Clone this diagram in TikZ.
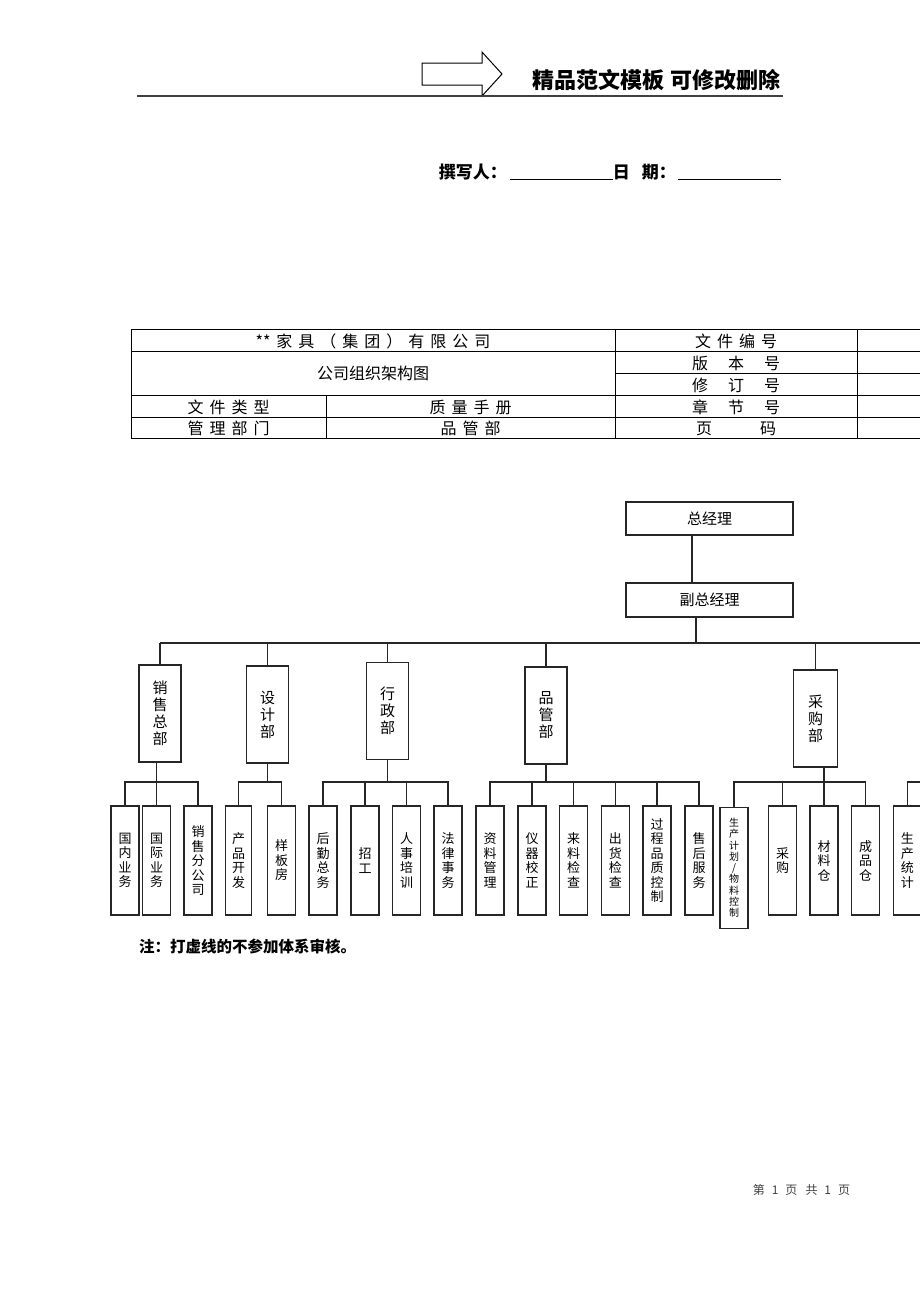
\documentclass[tikz,border=0pt]{standalone}
\usepackage{fontspec}
\setmainfont{Noto Sans CJK SC}
\newcommand{\tg}{\hspace{6pt}}
\tikzstyle{topbox} = [rectangle, minimum width=167, minimum height=33, inner sep=0, text centered, draw=black!85, line width=1.3, font=\fontsize{15}{17}\selectfont]
\tikzstyle{deptbox} = [rectangle, minimum width=42, minimum height=97, inner sep=0, align=center, draw=black!85, line width=1.3, font=\fontsize{15}{17}\selectfont]
\tikzstyle{subbox} = [rectangle, minimum width=28, minimum height=109, inner sep=0, align=center, draw=black!85, line width=1.3, font=\fontsize{13}{14.5}\selectfont]
\tikzstyle{conn} = [line width=1.3, black!85]
\tikzstyle{tableline} = [line width=0.8]
\tikzstyle{cell} = [inner sep=0, font=\fontsize{16}{18}\selectfont]
\begin{document}
\begin{tikzpicture}[x=1pt, y=-1pt]
	\useasboundingbox (0,0) rectangle (920,1302);
	% header
	\draw [line width=1] (422,63) -- (482,63) -- (482,52) -- (502,74) -- (482,96) -- (482,85) -- (422,85) -- cycle;
	\draw [line width=1.5, black!75] (137,96) -- (783,96);
	\node (title) [anchor=east, inner sep=0, font=\fontsize{22}{24}\selectfont\bfseries] at (781,80) {精品范文模板\hspace{6pt}可修改删除};
	\node (writer) [anchor=base east, inner sep=0, font=\fontsize{17}{19}\selectfont\bfseries] at (781,178) {撰写人：\hspace{3pt}\underline{\hspace{103pt}}日\hspace{12pt}期：\hspace{2pt}\underline{\hspace{103pt}}};
	
	% table
	\foreach \y in {329,351,395,417,438}
		\draw [tableline] (131,\y) -- (925,\y);
	\draw [tableline] (615,373) -- (925,373);
	\foreach \x in {131,615,857}
		\draw [tableline] (\x,329) -- (\x,438);
	\draw [tableline] (326,395) -- (326,438);
	\node (company) [cell] at (373,341) {**\tg 家\tg 具\tg （\tg 集\tg 团\tg ）\tg 有\tg 限\tg 公\tg 司};
	\node (docno) [cell] at (736,341) {文\tg 件\tg 编\tg 号};
	\node (chart) [cell] at (373,373) {公司组织架构图};
	\node (version) [cell] at (736,363) {版\hspace{20pt}本\hspace{20pt}号};
	\node (revision) [cell] at (736,385) {修\hspace{20pt}订\hspace{20pt}号};
	\node (doctype) [cell] at (228.5,407) {文\tg 件\tg 类\tg 型};
	\node (manual) [cell] at (470.5,407) {质\tg 量\tg 手\tg 册};
	\node (chapter) [cell] at (736,407) {章\hspace{20pt}节\hspace{20pt}号};
	\node (dept) [cell] at (228.5,428.5) {管\tg 理\tg 部\tg 门};
	\node (qadept) [cell] at (470.5,428.5) {品\tg 管\tg 部};
	\node (page) [cell] at (736,428.5) {页\hspace{48pt}码};
	
	% org chart
	\coordinate (bus) at (0,643);
	\coordinate (busend) at (925,643);
	\coordinate (mid) at (0,782);
	\coordinate (midend) at (925,782);
	\node (zjl) [topbox] at (709.5,518.5) {总经理};
	\node (fzjl) [topbox, minimum height=34] at (709.5,600) {副总经理};
	
	\node (xszb) [deptbox] at (160,713.5) {销\\售\\总\\部};
	\node (sjb) [deptbox] at (267.6,714.5) {设\\计\\部};
	\node (xzb) [deptbox] at (387.6,711) {行\\政\\部};
	\node (pgb) [deptbox] at (546,715.5) {品\\管\\部};
	\node (cgb) [deptbox, minimum width=44] at (815.5,718.5) {采\\购\\部};
	
	\node (gnyw) [subbox] at (125,860.5) {国\\内\\业\\务};
	\node (gjyw) [subbox] at (156.5,860.5) {国\\际\\业\\务};
	\node (xsfgs) [subbox] at (198,860.5) {销\\售\\分\\公\\司};
	\node (cpkf) [subbox, minimum width=26] at (238.7,860.5) {产\\品\\开\\发};
	\node (ybf) [subbox] at (281.5,860.5) {样\\板\\房};
	\node (hqzw) [subbox] at (323,860.5) {后\\勤\\总\\务};
	\node (zg) [subbox] at (365,860.5) {招\\工};
	\node (rspx) [subbox] at (406.5,860.5) {人\\事\\培\\训};
	\node (flsw) [subbox] at (448,860.5) {法\\律\\事\\务};
	\node (zlgl) [subbox] at (490,860.5) {资\\料\\管\\理};
	\node (yqjz) [subbox] at (532,860.5) {仪\\器\\校\\正};
	\node (lljc) [subbox] at (573.5,860.5) {来\\料\\检\\查};
	\node (chjc) [subbox] at (615.3,860.5) {出\\货\\检\\查};
	\node (gcpz) [subbox] at (657,860.5) {过\\程\\品\\质\\控\\制};
	\node (shfw) [subbox] at (699,860.5) {售\\后\\服\\务};
	\node (scjh) [subbox, minimum height=121, font=\fontsize{10}{11.3}\selectfont] at (734,867.8) {生\\产\\计\\划\\/\\物\\料\\控\\制};
	\node (cg) [subbox] at (782.5,860.5) {采\\购};
	\node (clc) [subbox] at (824,860.5) {材\\料\\仓};
	\node (cpc) [subbox] at (865.7,860.5) {成\\品\\仓};
	\node (sctj) [subbox] at (907.3,860.5) {生\\产\\统\\计};
	
	\draw [conn] ([xshift=-17.5]zjl.south) -- ([xshift=-17.5]zjl.south |- fzjl.north);
	\draw [conn] ([xshift=-13.5]fzjl.south) -- ([xshift=-13.5]fzjl.south |- bus);
	\draw [conn] (xszb.north |- bus) -- (busend);
	\foreach \d in {xszb,sjb,xzb,pgb,cgb}
		\draw [conn] (\d.north) -- (\d.north |- bus);
	
	\draw [conn] (gjyw.north) -- (gjyw.north |- xszb.south);
	\draw [conn] (sjb.south) -- (sjb.south |- mid);
	\draw [conn] (xzb.south) -- (xzb.south |- mid);
	\draw [conn] (pgb.south) -- (pgb.south |- mid);
	\draw [conn] (clc.north) -- (clc.north |- cgb.south);
	
	\draw [conn] (gnyw.north) -- (gnyw.north |- mid) -- (xsfgs.north |- mid) -- (xsfgs.north);
	\draw [conn] (cpkf.north) -- (cpkf.north |- mid) -- (ybf.north |- mid) -- (ybf.north);
	\draw [conn] (hqzw.north) -- (hqzw.north |- mid) -- (flsw.north |- mid) -- (flsw.north);
	\draw [conn] (zlgl.north) -- (zlgl.north |- mid) -- (shfw.north |- mid) -- (shfw.north);
	\draw [conn] (scjh.north) -- (scjh.north |- mid) -- (cpc.north |- mid) -- (cpc.north);
	\draw [conn] (sctj.north) -- (sctj.north |- mid) -- (midend);
	\foreach \s in {zg,rspx,yqjz,lljc,chjc,gcpz,cg}
		\draw [conn] (\s.north) -- (\s.north |- mid);
	
	% notes
	\node (note) [anchor=base west, inner sep=0, font=\fontsize{15.5}{17}\selectfont\bfseries] at (139,952) {注：打虚线的不参加体系审核。};
	\node (footer) [inner sep=0, text=black!75, font=\fontsize{12}{14}\selectfont] at (801.5,1190) {第\hspace{7pt}1\hspace{7pt}页\hspace{8pt}共\hspace{7pt}1\hspace{7pt}页};
\end{tikzpicture}
\end{document}
